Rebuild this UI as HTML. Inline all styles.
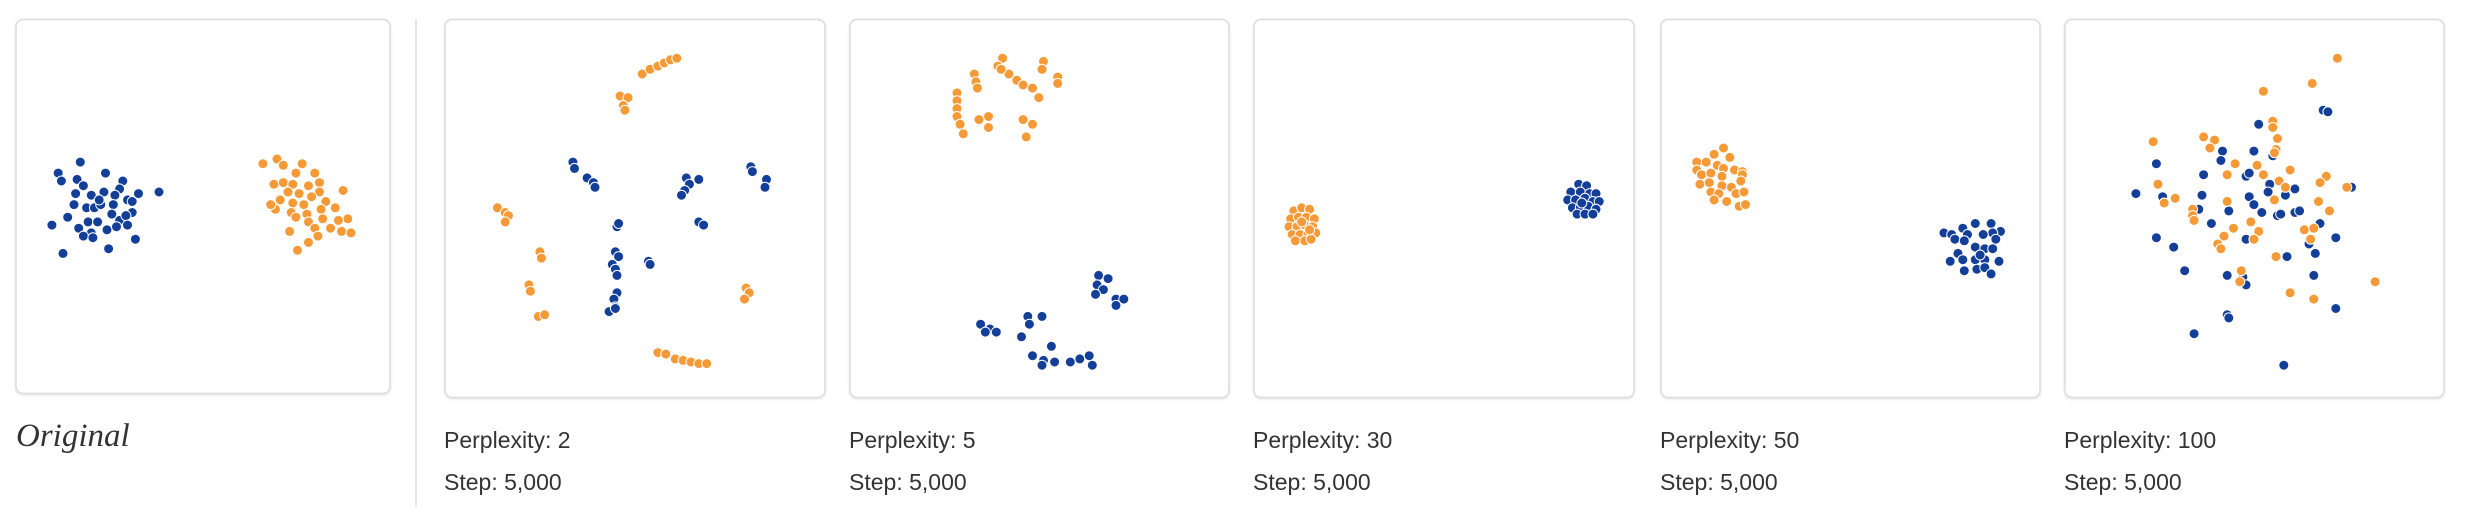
<!DOCTYPE html>
<html><head><meta charset="utf-8">
<style>
html,body{margin:0;padding:0;background:#fff;width:2468px;height:528px;overflow:hidden}
svg{display:block}
.cap{font-family:"Liberation Sans",sans-serif;font-size:23px;fill:#333}
.orig{font-family:"Liberation Serif",serif;font-style:italic;font-size:33px;fill:#333}
</style></head>
<body>
<svg id="chart" width="2468" height="528" viewBox="0 0 2468 528" xmlns="http://www.w3.org/2000/svg">
<defs><filter id="sh" x="-5%" y="-5%" width="110%" height="110%"><feDropShadow dx="0" dy="1" stdDeviation="1.2" flood-color="#000" flood-opacity="0.12"/></filter></defs>
<line x1="416" y1="19" x2="416" y2="507" stroke="#ddd" stroke-width="1.5"/>
<g id="panels"></g>
<text class="orig" x="16" y="446">Original</text>
</svg>
<script>
// Data: point coordinates in embedding space (reference-preview units)
const panelTitles = ["Original","Perplexity: 2","Perplexity: 5","Perplexity: 30","Perplexity: 50","Perplexity: 100"];
const stepLabels = ["","Step: 5,000","Step: 5,000","Step: 5,000","Step: 5,000","Step: 5,000"];
const blue0 = [[51,103],[37,110],[39,115],[67,110],[49,114],[53,118],[78,115],[76,120],[48,123],[58,124],[66,122],[73,124],[81,127],[88,123],[101,122],[47,130],[55,132],[60,132],[64,130],[72,130],[84,128],[84,135],[43,138],[56,141],[62,141],[76,140],[80,137],[33,143],[50,145],[58,148],[68,146],[74,144],[81,143],[53,150],[59,151],[86,152],[40,161],[69,158],[63,127],[71,136]];
const orange0 = [[167,104],[176,101],[180,105],[192,104],[188,110],[200,110],[203,116],[174,117],[180,116],[186,117],[196,118],[203,122],[218,121],[183,122],[190,123],[198,125],[178,127],[186,129],[193,130],[207,128],[213,132],[175,133],[185,135],[195,136],[204,133],[221,139],[188,138],[196,141],[205,139],[184,147],[200,145],[210,145],[217,147],[223,148],[202,150],[189,159],[196,154],[172,130],[215,140]];
const blue1 = [[364,103],[365,107],[373,113],[377,116],[378,119],[436,113],[438,117],[435,121],[433,124],[444,114],[477,106],[478,109],[487,114],[486,119],[392,144],[393,142],[444,141],[447,143],[391,160],[393,163],[389,168],[391,171],[392,175],[412,166],[413,168],[392,186],[390,190],[391,195],[387,198],[391,196]];
const orange1 = [[408,47],[413,44],[418,42],[422,40],[426,38],[430,37],[394,61],[399,62],[396,67],[397,70],[316,132],[321,135],[323,137],[321,141],[343,160],[344,164],[336,181],[337,185],[342,201],[346,200],[474,183],[476,186],[473,190],[418,224],[423,225],[429,228],[434,229],[439,230],[444,231],[449,231]];
const blue2 = [[698,175],[704,177],[697,181],[701,184],[696,187],[709,190],[714,190],[709,194],[623,206],[629,209],[633,211],[626,211],[653,201],[662,201],[654,206],[649,214],[668,220],[656,226],[663,229],[670,230],[662,232],[680,230],[686,228],[692,226],[694,232]];
const orange2 = [[637,37],[634,42],[663,39],[662,44],[619,47],[620,52],[621,56],[641,47],[646,51],[650,54],[656,56],[660,62],[672,49],[672,53],[608,59],[608,64],[608,69],[608,74],[610,79],[612,85],[622,76],[628,74],[628,81],[650,76],[656,79],[652,87],[636,44]];
const blue3 = [[1003,117],[1008,118],[998,122],[1004,122],[1010,123],[1014,123],[996,127],[1001,127],[1007,126],[1012,128],[1016,128],[999,132],[1004,132],[1009,131],[1014,133],[1002,136],[1007,136],[1012,136],[1005,129]];
const orange3 = [[822,134],[827,132],[832,133],[820,139],[825,138],[830,138],[835,139],[819,144],[824,144],[829,143],[834,144],[821,149],[826,149],[831,149],[836,148],[823,153],[829,153],[833,152],[827,141],[832,146]];
const blue4 = [[1235,148],[1240,149],[1247,145],[1255,142],[1265,142],[1271,147],[1266,148],[1260,149],[1250,149],[1242,152],[1248,153],[1255,157],[1261,158],[1268,152],[1266,158],[1244,161],[1239,166],[1247,165],[1255,165],[1261,165],[1270,166],[1248,172],[1256,171],[1261,170],[1265,174],[1258,162]];
const orange4 = [[1095,94],[1089,98],[1099,100],[1078,103],[1084,103],[1091,105],[1078,108],[1095,107],[1102,108],[1107,109],[1081,111],[1087,110],[1094,112],[1107,111],[1080,117],[1086,116],[1094,118],[1100,119],[1106,115],[1087,122],[1092,123],[1103,123],[1108,122],[1089,127],[1097,128],[1105,131],[1109,130]];
const blue5 = [[1476,70],[1479,71],[1435,79],[1412,96],[1432,96],[1444,99],[1411,102],[1370,104],[1400,111],[1427,112],[1429,110],[1442,117],[1441,122],[1452,124],[1458,120],[1494,119],[1357,123],[1374,125],[1399,124],[1429,125],[1432,130],[1397,133],[1416,134],[1437,135],[1447,137],[1449,136],[1458,135],[1461,134],[1405,142],[1474,142],[1370,151],[1381,157],[1427,152],[1484,151],[1467,155],[1471,161],[1453,163],[1388,172],[1415,175],[1425,176],[1427,181],[1470,175],[1484,196],[1415,200],[1416,202],[1394,212],[1451,232]];
const orange5 = [[1485,37],[1469,53],[1438,58],[1444,77],[1444,81],[1447,88],[1446,95],[1445,97],[1368,90],[1400,87],[1407,89],[1404,94],[1420,104],[1434,105],[1415,111],[1438,111],[1455,108],[1448,115],[1478,112],[1474,116],[1452,119],[1491,119],[1371,117],[1382,126],[1375,129],[1415,128],[1445,127],[1473,128],[1480,134],[1393,133],[1393,137],[1394,140],[1430,141],[1435,147],[1419,145],[1413,150],[1409,155],[1411,158],[1432,152],[1464,146],[1470,145],[1468,152],[1446,163],[1424,172],[1423,179],[1455,186],[1470,190],[1509,179]];
const blueSets = [blue0,blue1,blue2,blue3,blue4,blue5];
const orangeSets = [orange0,orange1,orange2,orange3,orange4,orange5];

const S = 2468/1568;
const xScale = v => v * S;
const yScale = v => v * S;
const NS = "http://www.w3.org/2000/svg";
const panelX = [16,445,850,1254,1661,2065];
const panelW = [374,380,379,380,379,379];
const g = document.getElementById('panels');

function mk(tag, attrs){ const e=document.createElementNS(NS,tag); for(const k in attrs) e.setAttribute(k,attrs[k]); return e; }

panelTitles.forEach((t,i)=>{
  const grp = mk('g',{});
  
  
  const r = mk('rect',{x:panelX[i],y:19.5,width:panelW[i],height:i===0?374:378,rx:7,fill:'#fff',stroke:'#dcdcdc','stroke-width':1.5,filter:'url(#sh)'});
  
  
  grp.appendChild(r);
  const drawSet = (pts,color,name)=>{
    pts.forEach(p=>{
      const c = mk('circle',{cx:xScale(p[0]).toFixed(1),cy:yScale(p[1]).toFixed(1),r:5,fill:color,stroke:'#fff','stroke-width':1});
      
      
      grp.appendChild(c);
    });
  };
  drawSet(blueSets[i],'#133f98','blue-point');
  drawSet(orangeSets[i],'#f59a36','orange-point');
  if(i>0){
    const t1 = mk('text',{x:panelX[i]-1,y:448,'class':'cap'});
    t1.textContent = t;
    
    
    grp.appendChild(t1);
    const t2 = mk('text',{x:panelX[i]-1,y:490,'class':'cap'});
    t2.textContent = stepLabels[i];
    
    
    grp.appendChild(t2);
  }
  g.appendChild(grp);
});
</script>
</body></html>
